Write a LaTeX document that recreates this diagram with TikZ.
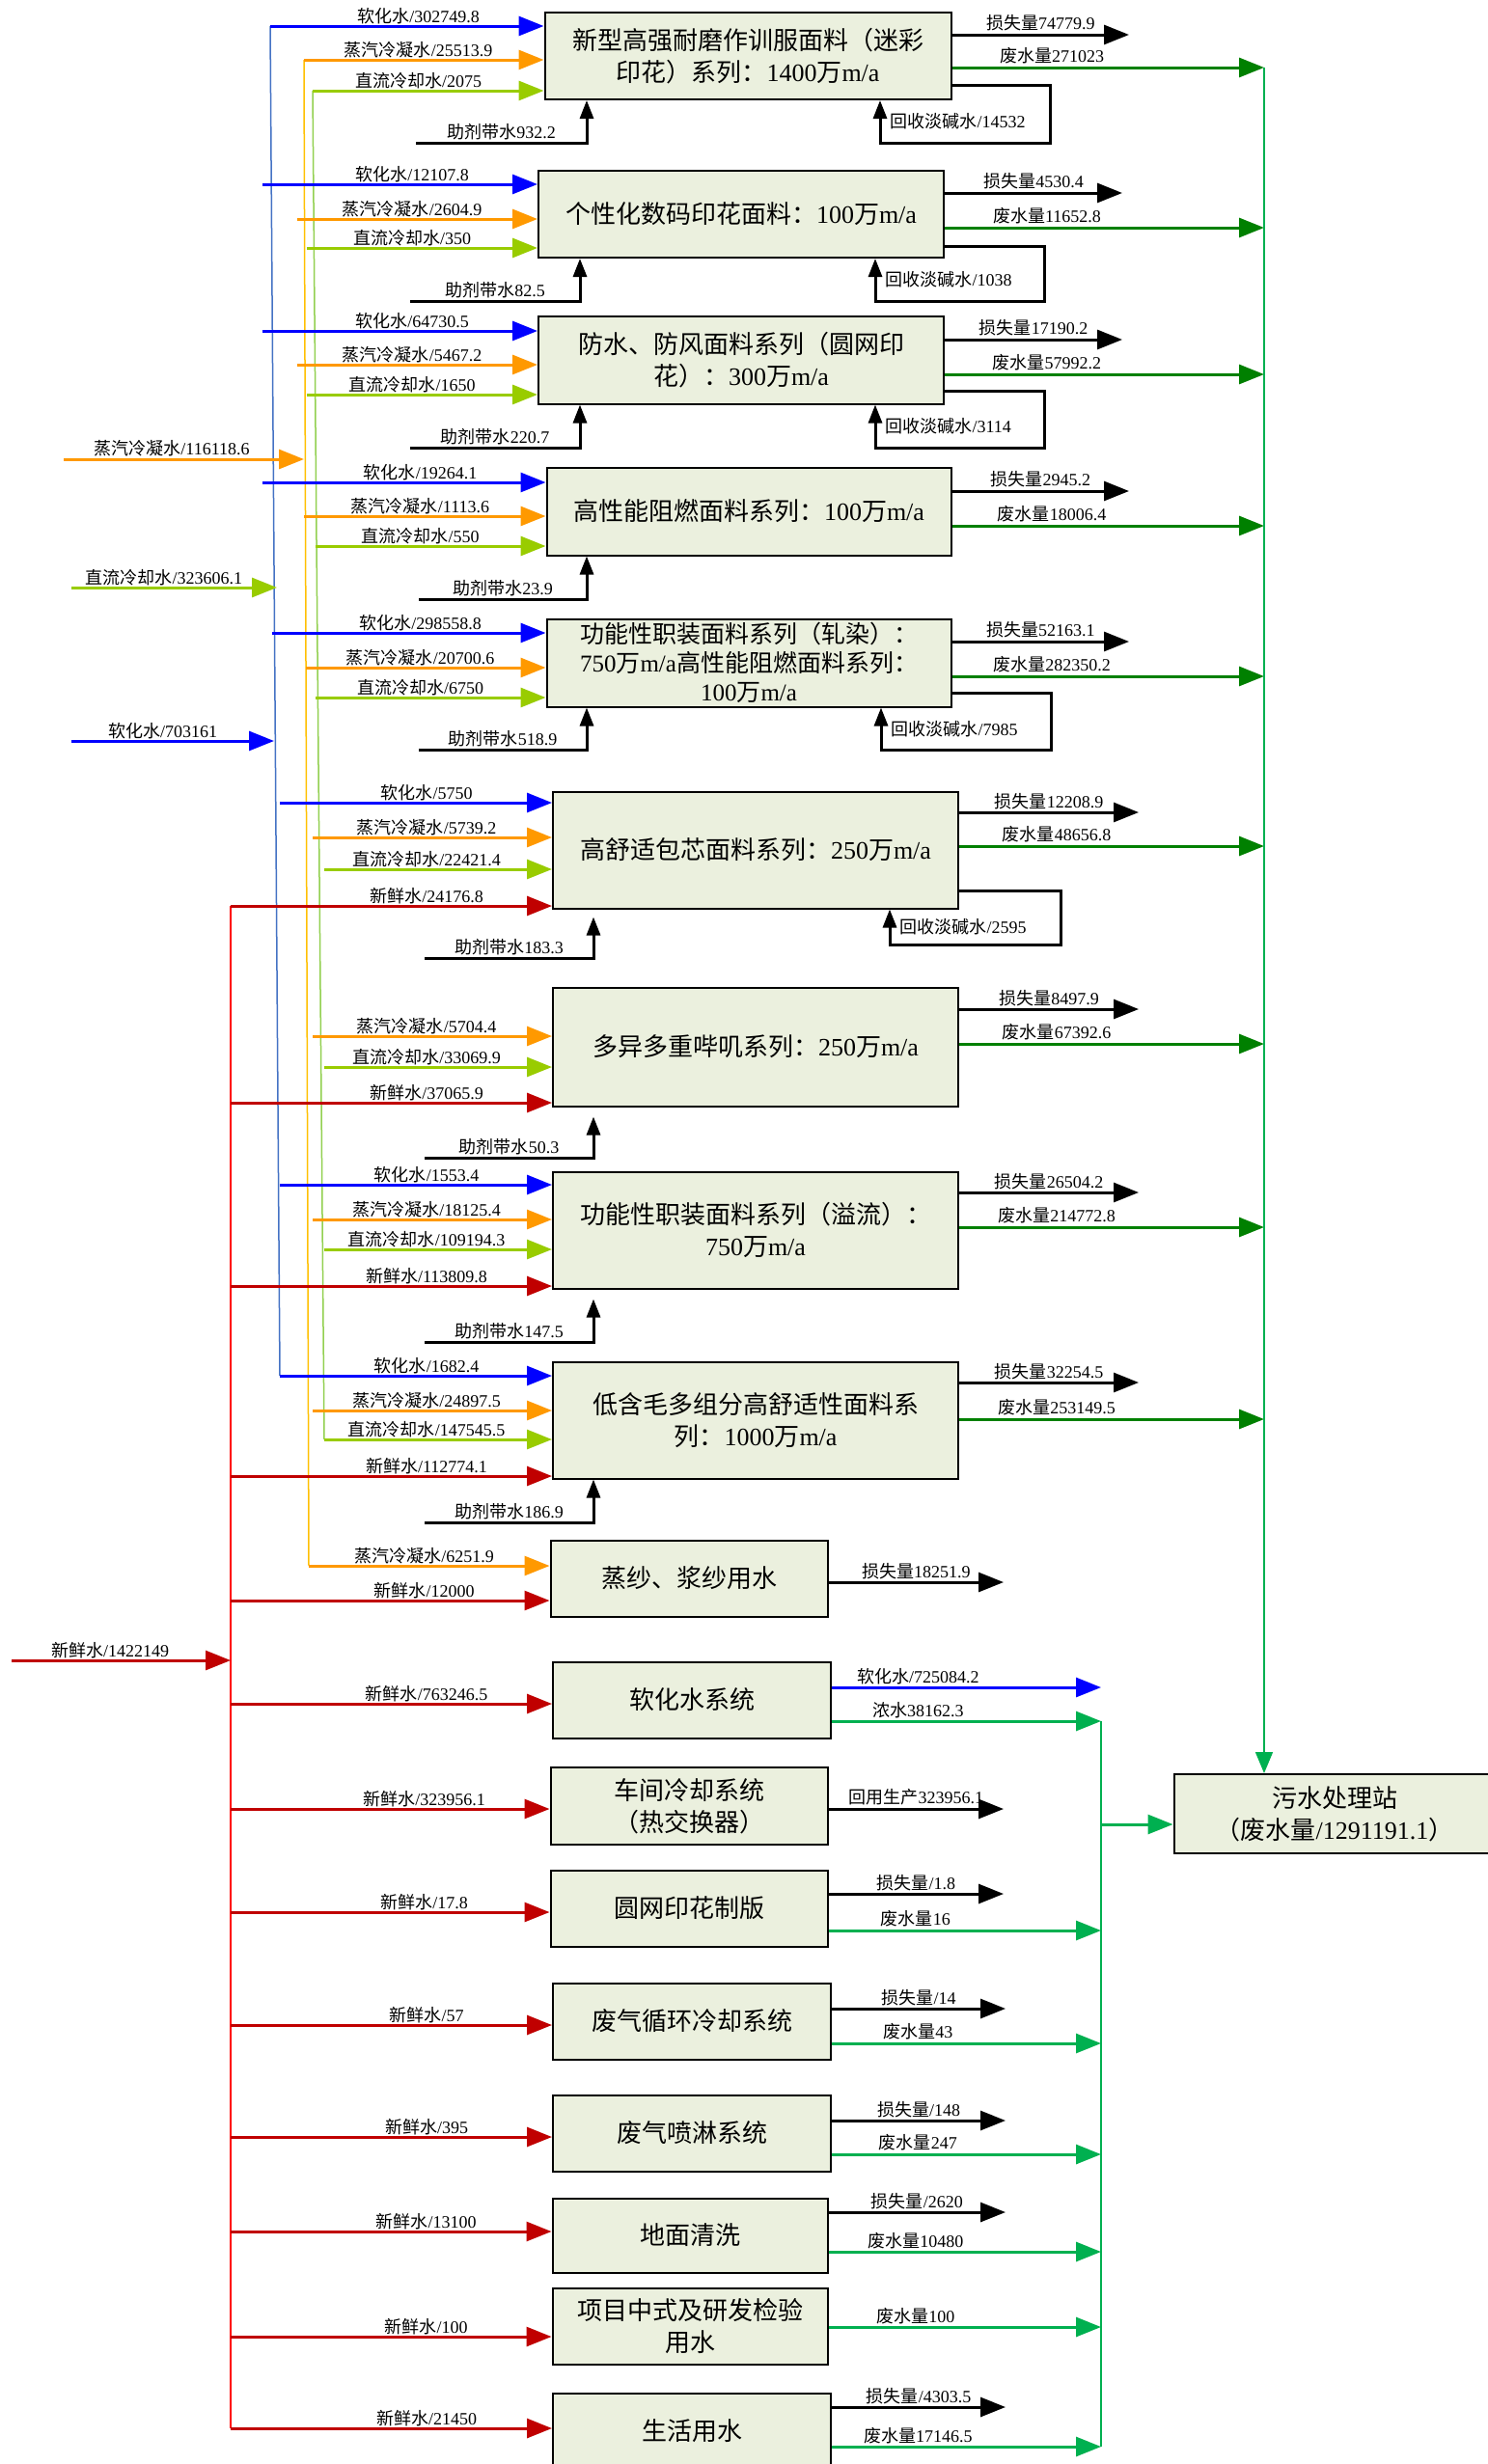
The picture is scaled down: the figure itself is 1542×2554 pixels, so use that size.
\documentclass[tikz,border=0pt]{standalone}
\usepackage{fontspec}
\setmainfont{Liberation Serif}
\newfontfamily\cjk{Noto Sans CJK SC}
\usetikzlibrary{arrows.meta}

% Chinese characters are set in the CJK font, everything else in the main font
\newXeTeXintercharclass\hanzi
\count255="3000
\loop \XeTeXcharclass\count255=\hanzi \advance\count255 by 1 \ifnum\count255<"A000 \repeat
\count255="FF00
\loop \XeTeXcharclass\count255=\hanzi \advance\count255 by 1 \ifnum\count255<"FFF0 \repeat
\XeTeXinterchartokenstate=1
\XeTeXinterchartoks 0 \hanzi = {\cjk}
\XeTeXinterchartoks 4095 \hanzi = {\cjk}
\XeTeXinterchartoks \hanzi 0 = {\rmfamily}
\XeTeXinterchartoks \hanzi 4095 = {\rmfamily}

\definecolor{boxfill}{RGB}{235,240,222}
\definecolor{softc}{RGB}{0,0,255}
\definecolor{steamc}{RGB}{255,153,0}
\definecolor{coolc}{RGB}{153,204,0}
\definecolor{freshc}{RGB}{192,0,0}
\definecolor{wdark}{RGB}{0,128,0}
\definecolor{wlight}{RGB}{0,176,80}
\definecolor{softbus}{RGB}{68,114,196}
\definecolor{steambus}{RGB}{255,192,0}
\definecolor{coolbus}{RGB}{146,208,80}
\definecolor{freshbus}{RGB}{255,0,0}

\begin{document}
\begin{tikzpicture}[x=1pt,y=-1pt,
        boxND/.style={rectangle,
                      draw=black,
                      line width=2pt,
                      fill=boxfill,
                      align=center,
                      inner sep=1pt,
                      font=\fontsize{26}{33}\selectfont},
        lblND/.style={inner sep=1pt,text=black,font=\fontsize{18}{20}\selectfont},
        feed/.style={line width=3pt,-{Triangle[length=26pt,width=20pt]}},
        aux/.style={line width=3pt,-{Triangle[length=19pt,width=14pt]}},
        bus/.style={line width=1.5pt}]
    \path[use as bounding box,fill=white] (0,0) rectangle (1542,2554);

    \node[boxND,minimum width=421,minimum height=90](b1)  at (775,58)   {新型高强耐磨作训服面料（迷彩\\印花）系列：1400万m/a};
    \node[boxND,minimum width=420,minimum height=90](b2)  at (768,222)  {个性化数码印花面料：100万m/a};
    \node[boxND,minimum width=420,minimum height=91](b3)  at (768,373)  {防水、防风面料系列（圆网印\\花）：300万m/a};
    \node[boxND,minimum width=419,minimum height=91](b4)  at (776,530)  {高性能阻燃面料系列：100万m/a};
    \node[boxND,minimum width=419,minimum height=91,inner sep=0pt,
          font=\fontsize{25}{30}\selectfont](b5)          at (776,687)  {功能性职装面料系列（轧染）：\\750万m/a高性能阻燃面料系列：\\100万m/a};
    \node[boxND,minimum width=420,minimum height=121](b6) at (783,881)  {高舒适包芯面料系列：250万m/a};
    \node[boxND,minimum width=420,minimum height=123](b7) at (783,1085) {多异多重哔叽系列：250万m/a};
    \node[boxND,minimum width=420,minimum height=121](b8) at (783,1275) {功能性职装面料系列（溢流）：\\750万m/a};
    \node[boxND,minimum width=420,minimum height=121](b9) at (783,1472) {低含毛多组分高舒适性面料系\\列：1000万m/a};
    \node[boxND,minimum width=287,minimum height=79](b10) at (714,1636) {蒸纱、浆纱用水};
    \node[boxND,minimum width=288,minimum height=79](b11) at (717,1762) {软化水系统};
    \node[boxND,minimum width=287,minimum height=80](b12) at (714,1872) {车间冷却系统\\（热交换器）};
    \node[boxND,minimum width=287,minimum height=79](b13) at (714,1978) {圆网印花制版};
    \node[boxND,minimum width=288,minimum height=79](b14) at (717,2095) {废气循环冷却系统};
    \node[boxND,minimum width=288,minimum height=79](b15) at (717,2211) {废气喷淋系统};
    \node[boxND,minimum width=285,minimum height=77](b16) at (715,2317) {地面清洗};
    \node[boxND,minimum width=285,minimum height=79](b17) at (715,2411) {项目中式及研发检验\\用水};
    \node[boxND,minimum width=288,minimum height=79](b18) at (717,2520) {生活用水};
    \node[boxND,minimum width=333,minimum height=82](ws)  at (1383,1880) {污水处理站\\（废水量/1291191.1）};

    % supply lines
    \coordinate (sb1) at (280,27);  \coordinate (sb2) at (290,1426);
    \coordinate (st1) at (315,62);  \coordinate (st2) at (320,1623);
    \coordinate (cb1) at (324,94);  \coordinate (cb2) at (336,1492);
    \coordinate (fb1) at (239,939); \coordinate (fb2) at (239,2517);
    \draw[bus,softbus]  (sb1) -- (sb2);
    \draw[bus,steambus] (st1) -- (st2);
    \draw[bus,coolbus]  (cb1) -- (cb2);
    \draw[bus,freshbus] (fb1) -- (fb2);

    \coordinate (in1) at (66,476);  \coordinate (in1e) at (315,476);
    \coordinate (in2) at (74,609);  \coordinate (in2e) at (287,609);
    \coordinate (in3) at (74,768);  \coordinate (in3e) at (284,768);
    \coordinate (in4) at (12,1721); \coordinate (in4e) at (239,1721);
    \draw[feed,steamc] (in1) -- node[lblND,above,pos=0.45](in1t){蒸汽冷凝水/116118.6} (in1e);
    \draw[feed,coolc]  (in2) -- node[lblND,above,pos=0.45](in2t){直流冷却水/323606.1} (in2e);
    \draw[feed,softc]  (in3) -- node[lblND,above,pos=0.45](in3t){软化水/703161} (in3e);
    \draw[feed,freshc] (in4) -- node[lblND,above,pos=0.45](in4t){新鲜水/1422149} (in4e);

    % inputs
    \foreach \n/\sx/\sy/\c/\lab in {
        b1/280/27/softc/{软化水/302749.8}, b1/315/62/steamc/{蒸汽冷凝水/25513.9}, b1/324/94/coolc/{直流冷却水/2075},
        b2/272/191/softc/{软化水/12107.8}, b2/308/227/steamc/{蒸汽冷凝水/2604.9}, b2/318/257/coolc/{直流冷却水/350},
        b3/272/343/softc/{软化水/64730.5}, b3/308/378/steamc/{蒸汽冷凝水/5467.2}, b3/318/409/coolc/{直流冷却水/1650},
        b4/272/500/softc/{软化水/19264.1}, b4/315/535/steamc/{蒸汽冷凝水/1113.6}, b4/327/566/coolc/{直流冷却水/550},
        b5/282/656/softc/{软化水/298558.8}, b5/317/692/steamc/{蒸汽冷凝水/20700.6}, b5/327/723/coolc/{直流冷却水/6750},
        b6/290/832/softc/{软化水/5750}, b6/324/868/steamc/{蒸汽冷凝水/5739.2}, b6/336/901/coolc/{直流冷却水/22421.4}, b6/239/939/freshc/{新鲜水/24176.8},
        b7/324/1074/steamc/{蒸汽冷凝水/5704.4}, b7/336/1106/coolc/{直流冷却水/33069.9}, b7/239/1143/freshc/{新鲜水/37065.9},
        b8/290/1228/softc/{软化水/1553.4}, b8/324/1264/steamc/{蒸汽冷凝水/18125.4}, b8/336/1295/coolc/{直流冷却水/109194.3}, b8/239/1333/freshc/{新鲜水/113809.8},
        b9/290/1426/softc/{软化水/1682.4}, b9/324/1462/steamc/{蒸汽冷凝水/24897.5}, b9/336/1492/coolc/{直流冷却水/147545.5}, b9/239/1530/freshc/{新鲜水/112774.1},
        b10/320/1623/steamc/{蒸汽冷凝水/6251.9}, b10/239/1659/freshc/{新鲜水/12000},
        b11/239/1766/freshc/{新鲜水/763246.5}, b12/239/1875/freshc/{新鲜水/323956.1},
        b13/239/1982/freshc/{新鲜水/17.8}, b14/239/2099/freshc/{新鲜水/57},
        b15/239/2215/freshc/{新鲜水/395}, b16/239/2313/freshc/{新鲜水/13100},
        b17/239/2422/freshc/{新鲜水/100}, b18/239/2517/freshc/{新鲜水/21450}}
    {
        \coordinate (\n s\sy) at (\sx,\sy);
        \draw[feed,\c] (\n s\sy) -- (\n.west |- \n s\sy);
        \path (\n.west |- \n s\sy) ++(-130,0) node[lblND,above=1pt](\n t\sy){\lab};
    }

    % losses
    \foreach \n/\sy/\ex/\lab in {
        b1/36/1170/{损失量74779.9}, b2/200/1163/{损失量4530.4}, b3/352/1163/{损失量17190.2},
        b4/509/1170/{损失量2945.2}, b5/665/1170/{损失量52163.1}, b6/842/1180/{损失量12208.9},
        b7/1046/1180/{损失量8497.9}, b8/1236/1180/{损失量26504.2}, b9/1433/1180/{损失量32254.5},
        b10/1640/1040/{损失量18251.9}, b12/1875/1040/{回用生产323956.1}, b13/1963/1040/{损失量/1.8},
        b14/2082/1042/{损失量/14}, b15/2198/1042/{损失量/148}, b16/2293/1042/{损失量/2620},
        b18/2495/1042/{损失量/4303.5}}
    {
        \coordinate (\n e\sy) at (\ex,\sy);
        \draw[feed,black] (\n.east |- \n e\sy) -- node[lblND,above=1pt](\n l\sy){\lab} (\n e\sy);
    }

    % waste water
    \foreach \n/\sy/\ex/\c/\lab in {
        b1/70/1310/wdark/{废水量271023}, b2/236/1310/wdark/{废水量11652.8}, b3/388/1310/wdark/{废水量57992.2},
        b4/545/1310/wdark/{废水量18006.4}, b5/701/1310/wdark/{废水量282350.2}, b6/877/1310/wdark/{废水量48656.8},
        b7/1082/1310/wdark/{废水量67392.6}, b8/1272/1310/wdark/{废水量214772.8}, b9/1471/1310/wdark/{废水量253149.5},
        b11/1749/1141/softc/{软化水/725084.2}, b11/1784/1141/wlight/{浓水38162.3},
        b13/2001/1141/wlight/{废水量16}, b14/2118/1141/wlight/{废水量43}, b15/2233/1141/wlight/{废水量247},
        b16/2334/1141/wlight/{废水量10480}, b17/2412/1141/wlight/{废水量100}, b18/2536/1141/wlight/{废水量17146.5}}
    {
        \coordinate (\n w\sy) at (\ex,\sy);
        \draw[feed,\c] (\n.east |- \n w\sy) -- node[lblND,above=1pt,pos=0.32](\n v\sy){\lab} (\n w\sy);
    }

    \coordinate (c1t) at (1310,70);
    \coordinate (c2t) at (1141,1784); \coordinate (c2b) at (1141,2536);
    \coordinate (c2m) at (1141,1891);
    \draw[bus,wlight,-{Triangle[length=22pt,width=18pt]}] (c1t) -- (c1t |- ws.north);
    \draw[bus,wlight] (c2t) -- (c2b);
    \draw[feed,wlight] (c2m) -- (c2m -| ws.west);

    % additives
    \foreach \n/\sy/\sx/\vx/\g/\lab in {
        b1/148/431/608/0pt/{助剂带水932.2}, b2/312/425/601/0pt/{助剂带水82.5},
        b3/464/425/601/0pt/{助剂带水220.7}, b4/621/434/608/0pt/{助剂带水23.9},
        b5/777/434/608/0pt/{助剂带水518.9}, b6/993/440/615/8pt/{助剂带水183.3},
        b7/1200/440/615/10pt/{助剂带水50.3}, b8/1391/440/615/10pt/{助剂带水147.5},
        b9/1578/440/615/0pt/{助剂带水186.9}}
    {
        \coordinate (\n a) at (\sx,\sy);
        \coordinate (\n k) at (\vx,\sy);
        \draw[aux,shorten >=\g] (\n a) -- node[lblND,above=1pt](\n at){\lab} (\n k) -- (\n k |- \n.south);
    }

    % recycled lye
    \foreach \n/\sy/\rx/\ly/\lx/\lab in {
        b1/88/1088/148/912/{回收淡碱水/14532}, b2/255/1082/312/907/{回收淡碱水/1038},
        b3/405/1082/464/907/{回收淡碱水/3114}, b5/718/1089/777/913/{回收淡碱水/7985},
        b6/923/1099/979/922/{回收淡碱水/2595}}
    {
        \coordinate (\n r1) at (\rx,\sy);
        \coordinate (\n r2) at (\rx,\ly);
        \coordinate (\n r3) at (\lx,\ly);
        \draw[aux] (\n.east |- \n r1) -- (\n r1) -- (\n r2) -- (\n r3)
            -- node[lblND,right,xshift=8pt](\n rt){\lab} (\n r3 |- \n.south);
    }
\end{tikzpicture}
\end{document}
